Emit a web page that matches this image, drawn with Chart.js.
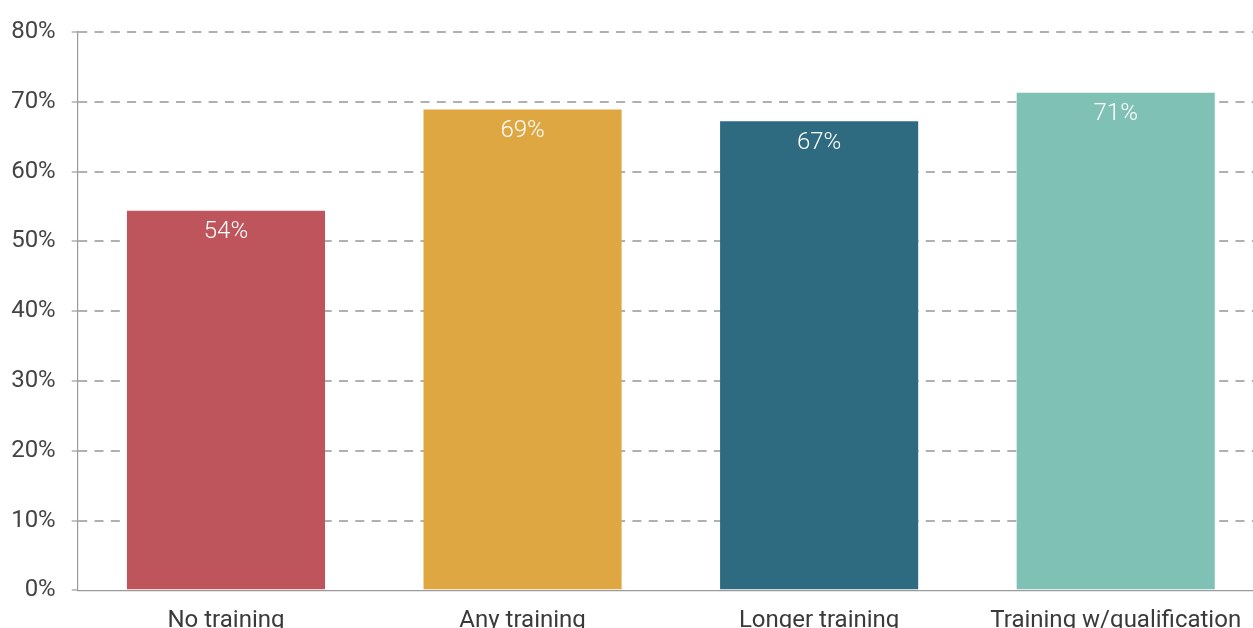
<!DOCTYPE html>
<html>
<head>
<meta charset="utf-8">
<script src="https://cdn.jsdelivr.net/npm/chart.js@4/dist/chart.umd.min.js"></script>
<style>
  html, body { margin: 0; padding: 0; background: #fff; overflow: hidden; }
  #wrap { position: relative; width: 1264px; height: 628px; }
</style>
</head>
<body>
<div id="wrap"><canvas id="bar-chart"></canvas></div>
<script>
const categories = ['No training', 'Any training', 'Longer training', 'Training w/qualification'];
const shares = [54.4, 68.9, 67.2, 71.3];
const barColors = ['#BE555D', '#DEA742', '#2E6A80', '#7FC2B5'];
const yTicks = [0, 10, 20, 30, 40, 50, 60, 70, 80];

// white value text just inside the top of every bar
const valueLabels = {
  id: 'valueLabels',
  afterDatasetsDraw(chart) {
    const ctx = chart.ctx;
    const meta = chart.getDatasetMeta(0);
    ctx.save();
    ctx.font = '300 24px Roboto';
    ctx.fillStyle = '#ffffff';
    ctx.textAlign = 'center';
    ctx.textBaseline = 'middle';
    meta.data.forEach((bar, i) => {
      ctx.fillText(Math.round(shares[i]) + '%', bar.x, bar.y + 21.5);
    });
    ctx.restore();
  }
};

let config = {
  type: 'bar',
  data: {
    labels: categories,
    datasets: [{
      data: shares,
      backgroundColor: barColors,
      borderWidth: 0,
      categoryPercentage: 1,
      barPercentage: 0.668
    }]
  },
  options: {
    responsive: true,
    maintainAspectRatio: false,
    animation: false,
    layout: { padding: { top: 32, left: 0, right: 0, bottom: 0 } },
    plugins: {
      legend: { display: false },
      tooltip: { enabled: false }
    },
    scales: {
      x: {
        grid: { display: false, drawTicks: false },
        border: { display: true, color: '#9a9a9a', width: 1.2 },
        ticks: {
          padding: 16,
          color: '#3a3a3a',
          font: { family: 'Roboto', size: 24 },
          maxRotation: 0,
          autoSkip: false
        },
        afterFit(s) { s.height = 37.7; }
      },
      y: {
        min: 0,
        max: 80,
        afterBuildTicks(s) { s.ticks = yTicks.map(v => ({ value: v })); },
        grid: {
          color: (c) => (c.tick && c.tick.value === 0) ? 'rgba(0,0,0,0)' : '#b0b0b0',
          lineWidth: 2,
          tickLength: 6,
          tickColor: '#9a9a9a',
          tickWidth: 1.2,
          tickBorderDash: []
        },
        border: { display: true, color: '#9a9a9a', width: 1.2, dash: [9, 7.3] },
        ticks: {
          padding: 16,
          color: '#444444',
          font: { family: 'Roboto', size: 24 },
          callback: (v) => v + '%'
        },
        afterFit(s) { s.width = 77.7; }
      }
    }
  },
  plugins: [valueLabels]
};

let ctx = document.getElementById('bar-chart').getContext('2d');
window.myBar = new Chart(ctx, config);
</script>
</body>
</html>
